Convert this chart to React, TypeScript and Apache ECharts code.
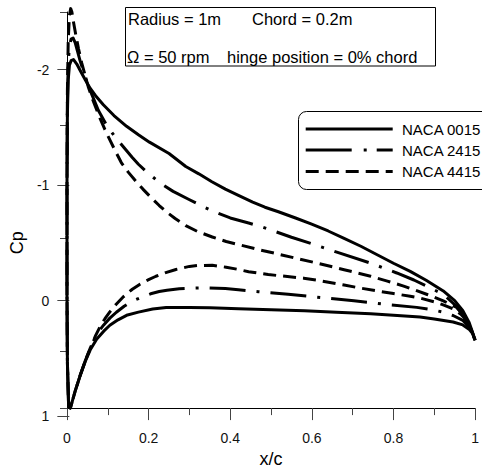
import React, { useEffect, useRef } from "react";
import * as echarts from "echarts";

// ---------- data (x/c, Cp), ordered trailing edge (lower) -> leading edge -> trailing edge (upper)
const naca0015: [number, number][] = [
  [1.0, 0.4], [0.995, 0.345], [0.986, 0.305], [0.97, 0.265], [0.946, 0.239], [0.9, 0.212],
  [0.865, 0.196], [0.8, 0.18], [0.744, 0.167], [0.66, 0.152], [0.582, 0.139], [0.5, 0.13],
  [0.42, 0.122], [0.35, 0.114], [0.3, 0.11], [0.243, 0.112], [0.21, 0.125], [0.175, 0.152],
  [0.146, 0.18], [0.125, 0.22], [0.105, 0.268], [0.09, 0.32], [0.073, 0.39], [0.057, 0.485],
  [0.045, 0.585], [0.032, 0.715], [0.02, 0.85], [0.009, 0.99], [0.008, 1.0], [0.004, 0.99],
  [0.001, 0.6], [0.0, 0.0], [0.0, -1.0], [0.001, -1.6], [0.003, -1.9], [0.006, -2.03],
  [0.01, -2.07], [0.016, -2.08], [0.024, -2.04], [0.032, -1.985], [0.045, -1.9], [0.057, -1.825],
  [0.07, -1.76], [0.089, -1.68], [0.115, -1.585], [0.146, -1.49], [0.175, -1.415], [0.202, -1.35],
  [0.25, -1.25], [0.291, -1.135], [0.323, -1.07], [0.355, -1.0], [0.388, -0.935], [0.42, -0.88],
  [0.455, -0.82], [0.485, -0.775], [0.518, -0.735], [0.56, -0.68], [0.598, -0.627], [0.64, -0.565],
  [0.679, -0.5], [0.72, -0.43], [0.76, -0.355], [0.8, -0.28], [0.841, -0.208], [0.88, -0.13],
  [0.922, -0.035], [0.95, 0.05], [0.97, 0.14], [0.985, 0.24], [0.994, 0.335], [1.0, 0.4],
];

const naca2415: [number, number][] = [
  [1.0, 0.4], [0.993, 0.33], [0.985, 0.28], [0.97, 0.225], [0.946, 0.182], [0.922, 0.152],
  [0.89, 0.128], [0.857, 0.11], [0.784, 0.085], [0.703, 0.052], [0.622, 0.023], [0.542, -0.006],
  [0.469, -0.029], [0.42, -0.045], [0.388, -0.056], [0.34, -0.062], [0.307, -0.06], [0.275, -0.055],
  [0.245, -0.042], [0.226, -0.03], [0.205, -0.01], [0.186, 0.015], [0.16, 0.055], [0.14, 0.1],
  [0.121, 0.153], [0.105, 0.205], [0.09, 0.265], [0.073, 0.345], [0.057, 0.47], [0.045, 0.58],
  [0.032, 0.715], [0.02, 0.85], [0.009, 0.99], [0.008, 1.0], [0.004, 0.99], [0.001, 0.6],
  [0.0, 0.0], [0.0, -1.0], [0.001, -1.7], [0.003, -2.05], [0.006, -2.2], [0.01, -2.26],
  [0.015, -2.27], [0.02, -2.23], [0.026, -2.15], [0.032, -2.07], [0.04, -1.98], [0.05, -1.875],
  [0.061, -1.77], [0.077, -1.63], [0.097, -1.5], [0.117, -1.4], [0.14, -1.3], [0.16, -1.215],
  [0.175, -1.155], [0.194, -1.09], [0.226, -0.995], [0.26, -0.915], [0.299, -0.843], [0.331, -0.785],
  [0.364, -0.73], [0.4, -0.68], [0.445, -0.635], [0.481, -0.597], [0.513, -0.557], [0.55, -0.51],
  [0.598, -0.454], [0.663, -0.376], [0.744, -0.281], [0.808, -0.194], [0.85, -0.132], [0.881, -0.078],
  [0.922, -0.006], [0.954, 0.1], [0.978, 0.22], [0.992, 0.33], [1.0, 0.4],
];

const naca4415: [number, number][] = [
  [1.0, 0.4], [0.99, 0.3], [0.978, 0.22], [0.965, 0.17], [0.946, 0.124], [0.925, 0.092],
  [0.905, 0.066], [0.865, 0.028], [0.841, 0.012], [0.8, -0.012], [0.76, -0.035], [0.72, -0.06],
  [0.679, -0.087], [0.614, -0.13], [0.58, -0.148], [0.493, -0.18], [0.445, -0.205], [0.42, -0.225],
  [0.39, -0.245], [0.356, -0.262], [0.32, -0.26], [0.3, -0.252], [0.267, -0.225], [0.24, -0.195],
  [0.218, -0.165], [0.2, -0.135], [0.178, -0.093], [0.16, -0.05], [0.137, 0.02], [0.12, 0.085],
  [0.105, 0.15], [0.093, 0.21], [0.081, 0.28], [0.07, 0.36], [0.057, 0.47], [0.045, 0.58],
  [0.032, 0.715], [0.02, 0.85], [0.009, 0.99], [0.008, 1.0], [0.004, 0.99], [0.001, 0.6],
  [0.0, 0.0], [0.0, -1.0], [0.001, -1.8], [0.003, -2.25], [0.006, -2.47], [0.009, -2.53],
  [0.012, -2.5], [0.016, -2.41], [0.022, -2.29], [0.028, -2.18], [0.036, -2.05], [0.044, -1.945],
  [0.052, -1.84], [0.061, -1.745], [0.07, -1.66], [0.081, -1.56], [0.093, -1.46], [0.105, -1.37],
  [0.118, -1.275], [0.133, -1.17], [0.15, -1.085], [0.17, -1.0], [0.186, -0.935], [0.202, -0.875],
  [0.226, -0.79], [0.243, -0.735], [0.265, -0.675], [0.291, -0.612], [0.32, -0.56], [0.356, -0.512],
  [0.39, -0.472], [0.428, -0.438], [0.47, -0.4], [0.509, -0.368], [0.56, -0.325], [0.614, -0.28],
  [0.679, -0.223], [0.744, -0.165], [0.785, -0.122], [0.825, -0.078], [0.855, -0.04], [0.881, -0.006],
  [0.922, 0.052], [0.954, 0.109], [0.975, 0.19], [0.99, 0.3], [1.0, 0.4],
];

const seriesNames = ["NACA 0015", "NACA 2415", "NACA 4415"];
const seriesData = [naca0015, naca2415, naca4415];
const infoLine1 = ["Radius = 1m", "Chord = 0.2m"];
const infoLine2 = ["\u03A9 = 50 rpm", "hinge position = 0% chord"];
const xRange = [0, 1];
const xStep = 0.2;
const cpRange = [-2.5, 1];
const cpLabelRange = [-2, 1];

// ---------- styles
const FONT = '"Liberation Sans", Arial, Helvetica, sans-serif';
const chartDash: (number[] | null)[] = [null, [36, 11, 3, 11], [13, 7]];
const legendDash: (number[] | null)[] = [null, [46, 12, 3, 10], [13, 7]];

const GRID_LEFT = 67;
const GRID_RIGHT = 3;
const GRID_TOP = 12;
const GRID_BOTTOM = 57;
const W = 482;
const H = 473;

export default function App() {
  const ref = useRef<HTMLDivElement>(null);

  useEffect(() => {
    if (!ref.current) return;
    const chart = echarts.init(ref.current, undefined, { renderer: "svg" });
    const plotH = H - GRID_TOP - GRID_BOTTOM;
    const labelGridTop =
      GRID_TOP + ((cpLabelRange[0] - cpRange[0]) / (cpRange[1] - cpRange[0])) * plotH;

    const legendY = [129, 150, 171.5];

    const graphic: any[] = [
      {
        type: "rect",
        z: 100,
        shape: { x: 125.5, y: 7.5, width: 310, height: 58.5 },
        style: { fill: "#fff", stroke: "#000", lineWidth: 1 },
      },
      {
        type: "text", z: 101, x: 128, y: 19,
        style: { text: infoLine1[0], fontSize: 16.5, fontFamily: FONT, fill: "#000", verticalAlign: "middle" },
      },
      {
        type: "text", z: 101, x: 252, y: 19,
        style: { text: infoLine1[1], fontSize: 16.5, fontFamily: FONT, fill: "#000", verticalAlign: "middle" },
      },
      {
        type: "text", z: 101, x: 127, y: 57,
        style: { text: infoLine2[0], fontSize: 16.5, fontFamily: FONT, fill: "#000", verticalAlign: "middle" },
      },
      {
        type: "text", z: 101, x: 227, y: 57,
        style: { text: infoLine2[1], fontSize: 16.5, fontFamily: FONT, fill: "#000", verticalAlign: "middle" },
      },
      {
        type: "rect",
        z: 100,
        shape: { x: 298.5, y: 111.5, width: 200, height: 78, r: 8 },
        style: { fill: "#fff", stroke: "#000", lineWidth: 1 },
      },
    ];
    seriesNames.forEach((name, i) => {
      graphic.push({
        type: "line", z: 101,
        shape: { x1: 305.7, y1: legendY[i], x2: 392.7, y2: legendY[i] },
        style: { stroke: "#000", lineWidth: 3, lineDash: legendDash[i] || undefined },
      });
      graphic.push({
        type: "text", z: 101, x: 402, y: legendY[i],
        style: { text: name, fontSize: 15, fontFamily: FONT, fill: "#000", verticalAlign: "middle" },
      });
    });

    const option: any = {
      animation: false,
      backgroundColor: "#fff",
      textStyle: { fontFamily: FONT },
      grid: [
        { left: GRID_LEFT, right: GRID_RIGHT, top: GRID_TOP, bottom: GRID_BOTTOM },
        { left: GRID_LEFT, right: GRID_RIGHT, top: labelGridTop, bottom: GRID_BOTTOM },
      ],
      xAxis: [
        {
          type: "value",
          gridIndex: 0,
          position: "bottom",
          min: xRange[0],
          max: xRange[1],
          interval: xStep,
          name: "x/c",
          nameLocation: "middle",
          nameGap: 41,
          nameTextStyle: { fontSize: 18, color: "#000", fontFamily: FONT },
          axisLine: { show: true, onZero: false, lineStyle: { color: "#000", width: 1 } },
          axisTick: { show: true, inside: false, length: 12, lineStyle: { color: "#444" } },
          minorTick: { show: true, splitNumber: 2, length: 7, lineStyle: { color: "#444" } },
          axisLabel: { margin: 23, fontSize: 14, color: "#111", fontFamily: FONT },
          splitLine: { show: false },
          minorSplitLine: { show: false },
        },
        {
          type: "value",
          gridIndex: 1,
          min: xRange[0],
          max: xRange[1],
          show: false,
        },
      ],
      yAxis: [
        {
          type: "value",
          gridIndex: 0,
          position: "left",
          inverse: true,
          min: cpRange[0],
          max: cpRange[1],
          interval: 1,
          axisLine: { show: true, onZero: false, lineStyle: { color: "#000", width: 1 } },
          axisTick: { show: true, inside: false, length: 7, lineStyle: { color: "#444" } },
          axisLabel: { show: false },
          splitLine: { show: false },
        },
        {
          type: "value",
          gridIndex: 1,
          position: "left",
          inverse: true,
          min: cpLabelRange[0],
          max: cpLabelRange[1],
          interval: 1,
          name: "Cp",
          nameLocation: "middle",
          nameGap: 43,
          nameTextStyle: { fontSize: 18, color: "#000", fontFamily: FONT },
          axisLine: { show: false, onZero: false },
          axisTick: { show: true, inside: false, length: 12, lineStyle: { color: "#444" } },
          axisLabel: { margin: 20, fontSize: 14, color: "#111", fontFamily: FONT },
          splitLine: { show: false },
        },
      ],
      series: seriesData.map((d, i) => ({
        name: seriesNames[i],
        type: "line",
        xAxisIndex: 0,
        yAxisIndex: 0,
        data: d,
        symbol: "none",
        clip: false,
        smooth: false,
        lineStyle: {
          color: "#000",
          width: 3,
          type: chartDash[i] || "solid",
          join: "round",
        },
        z: 3 - i,
      })),
      graphic,
    };
    chart.setOption(option);
    return () => chart.dispose();
  }, []);

  return <div ref={ref} style={{ width: W, height: H, position: "absolute", left: 0, top: 0 }} />;
}
